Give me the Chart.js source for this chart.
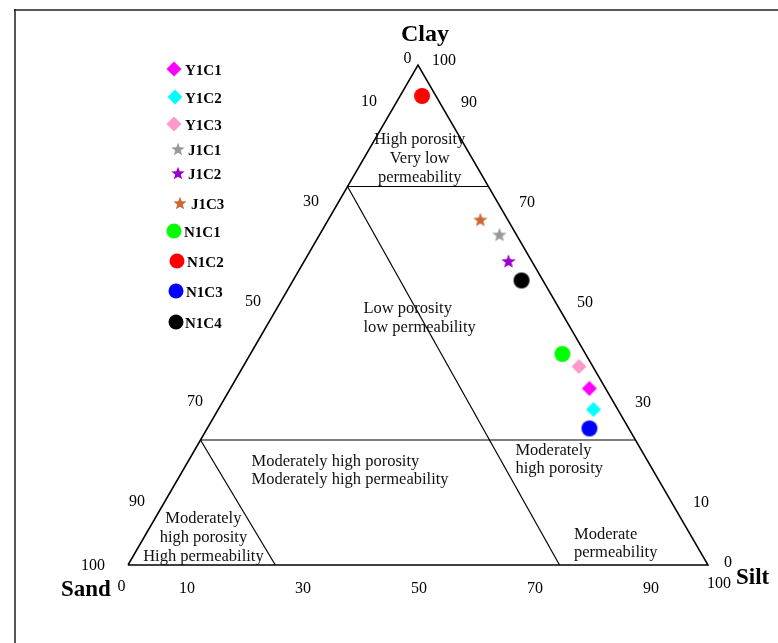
<!DOCTYPE html>
<html>
<head>
<meta charset="utf-8">
<script src="https://cdn.jsdelivr.net/npm/chart.js@4.4.1/dist/chart.umd.min.js"></script>
<style>
  html, body { margin: 0; padding: 0; background: #fff; }
  canvas { display: block; }
</style>
</head>
<body>
<canvas id="tern" width="778" height="643"></canvas>
<script>
// Sample compositions (percent): clay, silt, sand
const sampleNames = ['Y1C1', 'Y1C2', 'Y1C3', 'J1C1', 'J1C2', 'J1C3', 'N1C1', 'N1C2', 'N1C3', 'N1C4'];
const clayPct = [35.3, 31.1, 39.7, 66.1, 60.8, 69.1, 42.2, 93.8, 27.3, 56.9];
const siltPct = [61.9, 64.7, 57.9, 31.0, 35.2, 26.2, 53.8, 3.8, 65.9, 39.4];
const sandPct = [2.8, 4.2, 2.4, 2.9, 4.0, 4.7, 4.0, 2.4, 6.8, 3.7];

// Axis tick values
const sandTicks = [0, 10, 30, 50, 70, 90, 100];   // left edge
const clayTicks = [100, 90, 70, 50, 30, 10, 0];   // right edge
const siltTicks = [0, 10, 30, 50, 70, 90, 100];   // base

// Zone boundaries, each segment as [sand, clay, silt] endpoints
const zoneBounds = [
  [[24.3, 75.7, 0], [0, 75.7, 24.3]],
  [[24.3, 75.7, 0], [25.6, 0, 74.4]],
  [[75, 25, 0], [0, 25, 75]],
  [[75, 25, 0], [74.6, 0, 25.4]]
];
const outline = [[100, 0, 0], [0, 100, 0], [0, 0, 100], [100, 0, 0]];

// Marker styling
const markerShape = ['diamond', 'diamond', 'diamond', 'star', 'star', 'star', 'circle', 'circle', 'circle', 'circle'];
const markerColor = ['#ff00ff', '#00ffff', '#ff99cc', '#999999', '#9900cc', '#cc6633', '#00ff00', '#ff0000', '#0000ff', '#000000'];

// ternary -> cartesian (x along the base 0..100, y = clay height 0..100)
function tern(sand, clay, silt) {
  const t = sand + clay + silt;
  return { x: (silt + clay / 2) / t * 100, y: clay / t * 100 };
}

function makeMarker(shape, color, r) {
  const c = document.createElement('canvas');
  const s = 2 * Math.ceil(r + 1);
  c.width = s; c.height = s;
  const g = c.getContext('2d');
  const m = s / 2;
  g.fillStyle = color;
  g.beginPath();
  if (shape === 'circle') {
    g.arc(m, m, r, 0, Math.PI * 2);
  } else if (shape === 'diamond') {
    g.moveTo(m, m - r); g.lineTo(m + r, m); g.lineTo(m, m + r); g.lineTo(m - r, m); g.closePath();
  } else {
    for (let i = 0; i < 10; i++) {
      const rr = i % 2 ? r * 0.42 : r;
      const a = -Math.PI / 2 + i * Math.PI / 5;
      g.lineTo(m + rr * Math.cos(a), m + rr * Math.sin(a) + r * 0.1);
    }
    g.closePath();
  }
  g.fill();
  return c;
}

const markerRadius = { circle: 8, diamond: 7.5, star: 7.5 };
const plotMarkers = markerShape.map((s, i) => makeMarker(s, markerColor[i], markerRadius[s]));
const legendMarkers = markerShape.map((s, i) => makeMarker(s, markerColor[i], s === 'circle' ? 7.5 : (s === 'star' ? 7 : 7.5)));

const lineSet = (pts, w) => ({
  data: pts.map(p => tern(p[0], p[1], p[2])),
  showLine: true, borderColor: '#000', borderWidth: w,
  pointRadius: 0, clip: false, fill: false, tension: 0
});

const datasets = [lineSet(outline, 1.5)]
  .concat(zoneBounds.map(seg => lineSet(seg, 1.2)))
  .concat(sampleNames.map((n, i) => ({
    label: n,
    data: [tern(sandPct[i], clayPct[i], siltPct[i])],
    pointStyle: plotMarkers[i],
    pointRadius: 8,
    showLine: false,
    clip: false
  })));

// Text blocks placed in plot coordinates (x along base, y = clay height)
const zoneText = [
  { x: 50.3, y: 85.0, align: 'center', gap: 19, lines: ['High porosity', 'Very low', 'permeability'] },
  { x: 40.6, y: 51.2, align: 'left', gap: 19, lines: ['Low porosity', 'low permeability'] },
  { x: 21.3, y: 20.7, align: 'left', gap: 18.5, lines: ['Moderately high porosity', 'Moderately high permeability'] },
  { x: 13.0, y: 9.2, align: 'center', gap: 18.7, lines: ['Moderately', 'high porosity', 'High permeability'] },
  { x: 66.8, y: 22.8, align: 'left', gap: 17.5, lines: ['Moderately', 'high porosity'] },
  { x: 76.9, y: 6.0, align: 'left', gap: 18, lines: ['Moderate', 'permeability'] }
];

const legendLayout = {
  mx: [174, 175, 174, 178, 178, 180, 174, 177, 176, 176],
  my: [69, 97, 124, 149, 173, 203, 231, 261, 291, 322],
  tx: [185, 185, 185, 188, 188, 191, 184, 187, 186, 185]
};

const ternaryDecor = {
  id: 'ternaryDecor',
  beforeDraw(chart) {
    const ctx = chart.ctx;
    ctx.save();
    ctx.fillStyle = '#fff';
    ctx.fillRect(0, 0, chart.width, chart.height);
    ctx.strokeStyle = '#555';
    ctx.lineWidth = 2;
    ctx.beginPath(); ctx.moveTo(15, 9); ctx.lineTo(15, chart.height); ctx.stroke();
    ctx.strokeStyle = '#222';
    ctx.lineWidth = 1.5;
    ctx.beginPath(); ctx.moveTo(14, 10); ctx.lineTo(chart.width, 10); ctx.stroke();
    ctx.restore();
  },
  afterDraw(chart) {
    const ctx = chart.ctx;
    const xs = chart.scales.x, ys = chart.scales.y;
    const px = p => ({ x: xs.getPixelForValue(p.x), y: ys.getPixelForValue(p.y) });
    ctx.save();
    ctx.fillStyle = '#000';
    ctx.textBaseline = 'middle';

    // tick labels
    ctx.font = '16px "Liberation Serif", "Times New Roman", serif';
    ctx.textAlign = 'center';
    sandTicks.forEach(v => {
      const p = px(tern(v, 100 - v, 0));
      let dx = -20, dy = -13;
      if (v === 0) { dx = -10.5; dy = -6; }
      if (v === 100) { dx = -35; dy = 1; }
      ctx.fillText(String(v), p.x + dx, p.y + dy);
    });
    clayTicks.forEach(v => {
      const p = px(tern(0, v, 100 - v));
      let dx = 22, dy = -12.5;
      if (v === 100) { dx = 26; dy = -4.5; }
      if (v === 0) { dx = 20; dy = -2; }
      ctx.fillText(String(v), p.x + dx, p.y + dy);
    });
    siltTicks.forEach(v => {
      const p = px(tern(100 - v, 0, v));
      let dx = 1, dy = 24;
      if (v === 0) { dx = -6.5; dy = 22; }
      if (v === 100) { dx = 11; dy = 19; }
      ctx.fillText(String(v), p.x + dx, p.y + dy);
    });

    // corner titles
    ctx.font = 'bold 24px "Liberation Serif", "Times New Roman", serif';
    ctx.fillText('Clay', 425, 35);
    ctx.font = 'bold 23px "Liberation Serif", "Times New Roman", serif';
    ctx.textAlign = 'left';
    ctx.fillText('Sand', 61, 590);
    ctx.fillText('Silt', 736, 578);

    // zone descriptions
    ctx.font = '16.5px "Liberation Serif", "Times New Roman", serif';
    ctx.fillStyle = '#111';
    zoneText.forEach(t => {
      const p = px({ x: t.x, y: t.y });
      ctx.textAlign = t.align;
      t.lines.forEach((s, k) => ctx.fillText(s, p.x, p.y + k * t.gap));
    });

    // legend
    ctx.fillStyle = '#000';
    ctx.textAlign = 'left';
    ctx.font = 'bold 15px "Liberation Serif", "Times New Roman", serif';
    sampleNames.forEach((n, i) => {
      const m = legendMarkers[i];
      ctx.drawImage(m, legendLayout.mx[i] - m.width / 2, legendLayout.my[i] - m.height / 2);
      ctx.fillText(n, legendLayout.tx[i], legendLayout.my[i] + 2.5);
    });
    ctx.restore();
  }
};

new Chart(document.getElementById('tern'), {
  type: 'scatter',
  data: { datasets },
  options: {
    responsive: false,
    devicePixelRatio: 1,
    animation: false,
    events: [],
    layout: { padding: { left: 128, right: 70, top: 65, bottom: 78 } },
    scales: {
      x: { type: 'linear', min: 0, max: 100, display: false },
      y: { type: 'linear', min: 0, max: 100, display: false }
    },
    plugins: { legend: { display: false }, tooltip: { enabled: false } }
  },
  plugins: [ternaryDecor]
});
</script>
</body>
</html>
